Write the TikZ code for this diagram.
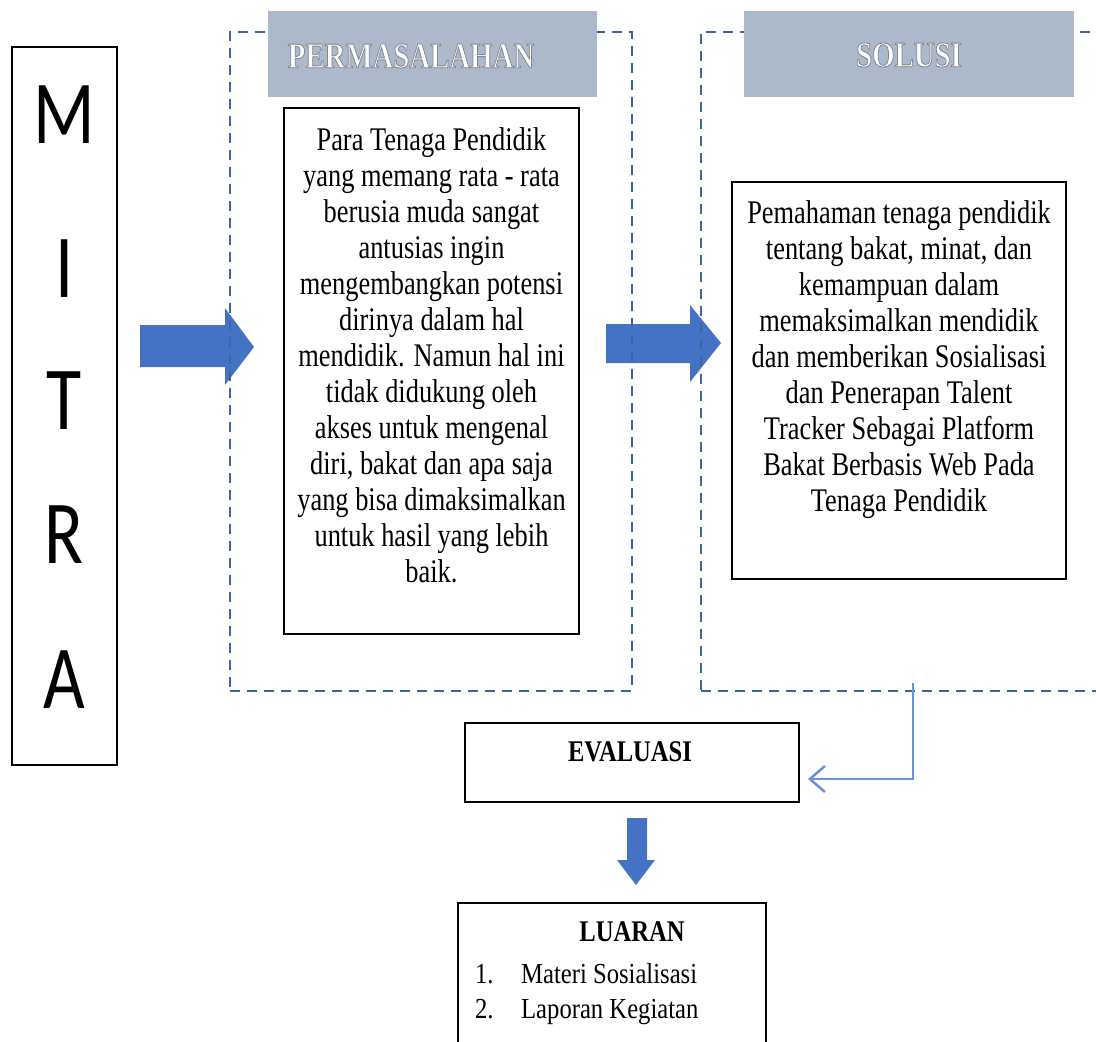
\documentclass[tikz,border=0pt]{standalone}
\usepackage{fontspec}
\setmainfont{Liberation Serif}
\newfontfamily\calibrifont{Carlito}
\usetikzlibrary{arrows.meta}
\definecolor{dashblue}{HTML}{3F64A0}
\definecolor{hdrfill}{HTML}{ACB9CA}
\definecolor{arrowblue}{HTML}{4472C4}
\definecolor{fbblue}{HTML}{6A92DC}
\newcommand\glowtxt[1]{\special{pdf:literal direct 2 Tr 0.9 w 0.5 0.52 0.56 RG}#1\special{pdf:literal direct 0 Tr}}
\begin{document}
\begin{tikzpicture}[x=1pt,y=-1pt,
  blackbox/.style={draw=black, line width=2pt, inner sep=0pt, outer sep=0pt},
  dashbox/.style={draw=dashblue, line width=2pt, dash pattern=on 10pt off 7pt, inner sep=0pt, outer sep=0pt},
  hdr/.style={fill=hdrfill, draw=none, inner sep=0pt, outer sep=0pt},
  hdrtext/.style={text=white, font=\fontsize{36}{40}\selectfont\bfseries, xscale=0.8, inner sep=0pt},
  body/.style={font=\fontsize{33}{36}\selectfont, align=center, xscale=0.8, inner sep=0pt},
  mitraletter/.style={font=\calibrifont\fontsize{90}{90}\selectfont, xscale=0.8, inner sep=0pt},
  blockarrow/.style={fill=arrowblue, draw=none},
  boldlabel/.style={font=\fontsize{30}{34}\selectfont\bfseries, xscale=0.82, inner sep=0pt},
  listtext/.style={font=\fontsize{29}{32}\selectfont, xscale=0.85, inner sep=0pt, anchor=base west},
  feedback/.style={draw=fbblue, line width=2.5pt, -{Straight Barb[length=15pt,width=26pt]}},
]
\useasboundingbox (0,0) rectangle (1096,1042);
\clip (0,0) rectangle (1096,1042);

% block arrows (drawn first, dashed frames lie over them)
\path[blockarrow] (140,325) -- (225,325) -- (225,308) -- (254,347) -- (225,385) -- (225,367) -- (140,367) -- cycle;
\path[blockarrow] (606,324) -- (690,324) -- (690,305) -- (721,343) -- (690,382) -- (690,363) -- (606,363) -- cycle;
\path[blockarrow] (627,818) -- (647,818) -- (647,860) -- (655,860) -- (636,885) -- (617,860) -- (627,860) -- cycle;

% MITRA
\node[blackbox, minimum width=105pt, minimum height=718pt] (mitrabox) at (64.5,406) {};
\node[mitraletter] (m1) at (64.5,115) {M};
\node[mitraletter] (m2) at (64.5,269) {I};
\node[mitraletter] (m3) at (64.5,401) {T};
\node[mitraletter] (m4) at (64.5,535) {R};
\node[mitraletter] (m5) at (64.5,680) {A};

% PERMASALAHAN
\node[dashbox, minimum width=402pt, minimum height=659pt] (permdash) at (431,361.5) {};
\node[hdr, minimum width=329pt, minimum height=86pt] (permhdr) at (432.5,54) {};
\node[hdrtext] (permtitle) at (411,56) {\glowtxt{PERMASALAHAN}};
\node[blackbox, minimum width=295pt, minimum height=526pt] (permbox) at (431.5,371) {};
\node[body] (permtext) at (431.5,355) {Para Tenaga Pendidik\\
yang memang rata - rata\\
berusia muda sangat\\
antusias ingin\\
mengembangkan potensi\\
dirinya dalam hal\\
mendidik. Namun hal ini\\
tidak didukung oleh\\
akses untuk mengenal\\
diri, bakat dan apa saja\\
yang bisa dimaksimalkan\\
untuk hasil yang lebih\\
baik.};

% SOLUSI
\node[dashbox, minimum width=409pt, minimum height=659pt] (soldash) at (905.5,361.5) {};
\node[hdr, minimum width=330pt, minimum height=86pt] (solhdr) at (909,54) {};
\node[hdrtext] (soltitle) at (909,55) {\glowtxt{SOLUSI}};
\node[blackbox, minimum width=334pt, minimum height=397pt] (solbox) at (899,380.5) {};
\node[body] (soltext) at (899,360) {Pemahaman tenaga pendidik\\
tentang bakat, minat, dan\\
kemampuan dalam\\
memaksimalkan mendidik\\
dan memberikan Sosialisasi\\
dan Penerapan Talent\\
Tracker Sebagai Platform\\
Bakat Berbasis Web Pada\\
Tenaga Pendidik};

% EVALUASI
\node[blackbox, minimum width=334pt, minimum height=79pt] (evalbox) at (632,762.5) {};
\node[boldlabel] (evaltitle) at (630,752) {EVALUASI};

% LUARAN
\node[blackbox, minimum width=308pt, minimum height=157pt] (luarbox) at (612,981.5) {};
\node[boldlabel] (luartitle) at (632,932) {LUARAN};
\node[listtext] (num1) at (475,983) {1.};
\node[listtext] (item1) at (521,983) {Materi Sosialisasi};
\node[listtext] (num2) at (475,1018) {2.};
\node[listtext] (item2) at (521,1018) {Laporan Kegiatan};

% feedback connector from SOLUSI to EVALUASI
\coordinate (fbstart) at (913,683);
\coordinate (fbend) at ([xshift=9pt,yshift=-16.5pt]evalbox.east);
\draw[feedback] (fbstart) |- (fbend);
\end{tikzpicture}
\end{document}
